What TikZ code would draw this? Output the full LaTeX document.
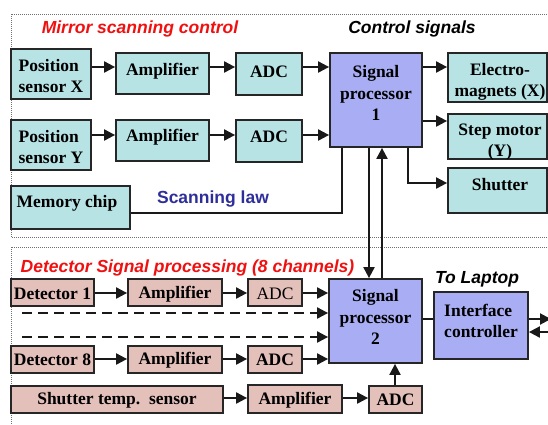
\documentclass[tikz,border=0pt]{standalone}
\usepackage{fontspec}
\setmainfont{Liberation Serif}
\newfontfamily\headfont{Liberation Sans}
\usetikzlibrary{arrows.meta}
\definecolor{cellcyan}{HTML}{B7E3E4}
\definecolor{cellpink}{HTML}{E4C0BB}
\definecolor{cellviolet}{HTML}{A9AEF4}
\definecolor{framegray}{HTML}{707070}
\definecolor{headred}{HTML}{F01010}
\definecolor{lawblue}{HTML}{2E2E9A}

\begin{document}
\begin{tikzpicture}[x=1pt,y=-1pt,
  cell/.style={draw=black!85, line width=1.8pt, inner sep=0pt},
  cyancell/.style={cell, fill=cellcyan},
  pinkcell/.style={cell, fill=cellpink},
  violetcell/.style={cell, fill=cellviolet},
  lbl/.style={inner sep=0pt, align=center, font=\bfseries\fontsize{17.5}{21.5}\selectfont},
  lbll/.style={lbl, align=left},
  head/.style={inner sep=0pt, font=\headfont\bfseries\itshape\fontsize{17.5}{21}\selectfont},
  link/.style={line width=2pt, draw=black!90},
  arr/.style={link, -{Triangle[length=11pt,width=11pt]}},
  dashlink/.style={arr, dash pattern=on 10pt off 6pt},
  frame/.style={draw=framegray, line width=0.9pt, dash pattern=on 0.9pt off 1.1pt}
]
\useasboundingbox (0,0) rectangle (548,424);

% dotted section frames
\draw[frame] (11,14) rectangle (560,237);
\draw[frame] (11,247) rectangle (560,440);

% rows and columns used by the connectors
\coordinate (rx) at (0,67);
\coordinate (rstep) at (0,121);
\coordinate (ry) at (0,135);
\coordinate (rshut) at (0,183);
\coordinate (rlaw) at (0,213);
\coordinate (cshut) at (408,0);
\coordinate (claw) at (342,0);
\coordinate (cdown) at (369,0);
\coordinate (cup) at (382,0);
\coordinate (rd1) at (0,293);
\coordinate (rd8) at (0,359);
\coordinate (rtemp) at (0,398);
\coordinate (ctemp) at (395,0);
\coordinate (rlink) at (0,319);
\coordinate (dashA) at (22,313);
\coordinate (dashB) at (22,337);
\coordinate (lapout) at (551,319);
\coordinate (lapin) at (551,332);

% ---- mirror scanning control ----
\node[cyancell, minimum width=80, minimum height=50] (posx) at (51,74) {};
\node[cyancell, minimum width=93, minimum height=41] (ampx) at (162.5,73.5) {};
\node[cyancell, minimum width=66, minimum height=42] (adcx) at (269,74) {};
\node[violetcell, minimum width=92, minimum height=94] (sp1) at (376,100) {};
\node[cyancell, minimum width=99, minimum height=49] (elec) at (497.5,77.5) {};
\node[cyancell, minimum width=99, minimum height=45] (step) at (497.5,136.5) {};
\node[cyancell, minimum width=99, minimum height=45] (shut) at (497.5,190.5) {};
\node[cyancell, minimum width=80, minimum height=50] (posy) at (51,145) {};
\node[cyancell, minimum width=93, minimum height=41] (ampy) at (162.5,140.5) {};
\node[cyancell, minimum width=66, minimum height=42] (adcy) at (269,141) {};
\node[cyancell, minimum width=119, minimum height=43] (mem) at (70.5,207.5) {};

\node[lbll] (posx-t) at (51,76) {Position\\sensor X};
\node[lbl] (ampx-t) at (162.5,71) {Amplifier};
\node[lbl] (adcx-t) at (269,71.5) {ADC};
\node[lbl] (sp1-t) at (376,93) {Signal\\processor\\1};
\node[lbl] (elec-t) at (500,82) {Electro-\\magnets (X)};
\node[lbl] (step-t) at (500,142) {Step motor\\(Y)};
\node[lbl] (shut-t) at (500,185) {Shutter};
\node[lbll] (posy-t) at (51,147) {Position\\sensor Y};
\node[lbl] (ampy-t) at (162.5,137) {Amplifier};
\node[lbl] (adcy-t) at (269,137) {ADC};
\node[lbl] (mem-t) at (67,203) {Memory chip};

\node[head, text=headred] (head-mirror) at (140,29) {Mirror scanning control};
\node[head] (head-ctrl) at (412,29) {Control signals};
\node[inner sep=0pt, font=\headfont\bfseries\fontsize{17.5}{21}\selectfont, text=lawblue] (law-t) at (213,199) {Scanning law};

\draw[arr] (posx.east |- rx) -- (ampx.west |- rx);
\draw[arr] (ampx.east |- rx) -- (adcx.west |- rx);
\draw[arr] (adcx.east |- rx) -- (sp1.west |- rx);
\draw[arr] (sp1.east |- rx) -- (elec.west |- rx);
\draw[arr] (sp1.east |- rstep) -- (step.west |- rstep);
\draw[arr] (posy.east |- ry) -- (ampy.west |- ry);
\draw[arr] (ampy.east |- ry) -- (adcy.west |- ry);
\draw[arr] (adcy.east |- ry) -- (sp1.west |- ry);
\draw[arr] (sp1.south -| cshut) |- (shut.west |- rshut);
\draw[link] (mem.east |- rlaw) -| (sp1.south -| claw);

% ---- detector signal processing ----
\node[pinkcell, minimum width=83, minimum height=27] (det1) at (52.5,292.5) {};
\node[pinkcell, minimum width=94, minimum height=27] (ampa) at (175,292.5) {};
\node[pinkcell, minimum width=54, minimum height=27] (adca) at (275,292.5) {};
\node[pinkcell, minimum width=83, minimum height=27] (det8) at (52.5,359.5) {};
\node[pinkcell, minimum width=94, minimum height=27] (ampb) at (175,359.5) {};
\node[pinkcell, minimum width=54, minimum height=27] (adcb) at (275,359.5) {};
\node[pinkcell, minimum width=212, minimum height=27] (sts) at (117,399.5) {};
\node[pinkcell, minimum width=94, minimum height=28] (ampt) at (295,399) {};
\node[pinkcell, minimum width=53, minimum height=27] (adct) at (395.5,399.5) {};
\node[violetcell, minimum width=93, minimum height=84] (sp2) at (375.5,321) {};
\node[violetcell, minimum width=94, minimum height=67] (ifc) at (481,325.5) {};

\node[lbl] (det1-t) at (52.5,294) {Detector 1};
\node[lbl] (ampa-t) at (175,294) {Amplifier};
\node[lbl, font=\fontsize{17.5}{21.5}\selectfont] (adca-t) at (275,294) {ADC};
\node[lbl] (det8-t) at (52.5,360) {Detector 8};
\node[lbl] (ampb-t) at (175,360) {Amplifier};
\node[lbl] (adcb-t) at (275,360) {ADC};
\node[lbl] (sts-t) at (117,400) {Shutter temp.\ \ sensor};
\node[lbl] (ampt-t) at (295,400) {Amplifier};
\node[lbl] (adct-t) at (395.5,400) {ADC};
\node[lbl] (sp2-t) at (375.5,317) {Signal\\processor\\2};
\node[lbll] (ifc-t) at (481,321) {Interface\\controller};

\node[head, text=headred] (head-det) at (187.5,268) {Detector Signal processing (8 channels)};
\node[head] (head-lap) at (477,279) {To Laptop};

\draw[arr] (det1.east |- rd1) -- (ampa.west |- rd1);
\draw[arr] (ampa.east |- rd1) -- (adca.west |- rd1);
\draw[arr] (adca.east |- rd1) -- (sp2.west |- rd1);
\draw[dashlink] (dashA) -- (sp2.west |- dashA);
\draw[dashlink] (dashB) -- (sp2.west |- dashB);
\draw[arr] (det8.east |- rd8) -- (ampb.west |- rd8);
\draw[arr] (ampb.east |- rd8) -- (adcb.west |- rd8);
\draw[arr] (adcb.east |- rd8) -- (sp2.west |- rd8);
\draw[arr] (sts.east |- rtemp) -- (ampt.west |- rtemp);
\draw[arr] (ampt.east |- rtemp) -- (adct.west |- rtemp);
\draw[arr] (adct.north -| ctemp) -- (sp2.south -| ctemp);
\draw[link] (sp2.east |- rlink) -- (ifc.west |- rlink);
\draw[arr] (ifc.east |- lapout) -- (lapout);
\draw[arr] (lapin) -- (ifc.east |- lapin);

% links between the two processors
\draw[arr] (sp1.south -| cdown) -- (sp2.north -| cdown);
\draw[arr] (sp2.north -| cup) -- (sp1.south -| cup);
\end{tikzpicture}
\end{document}
